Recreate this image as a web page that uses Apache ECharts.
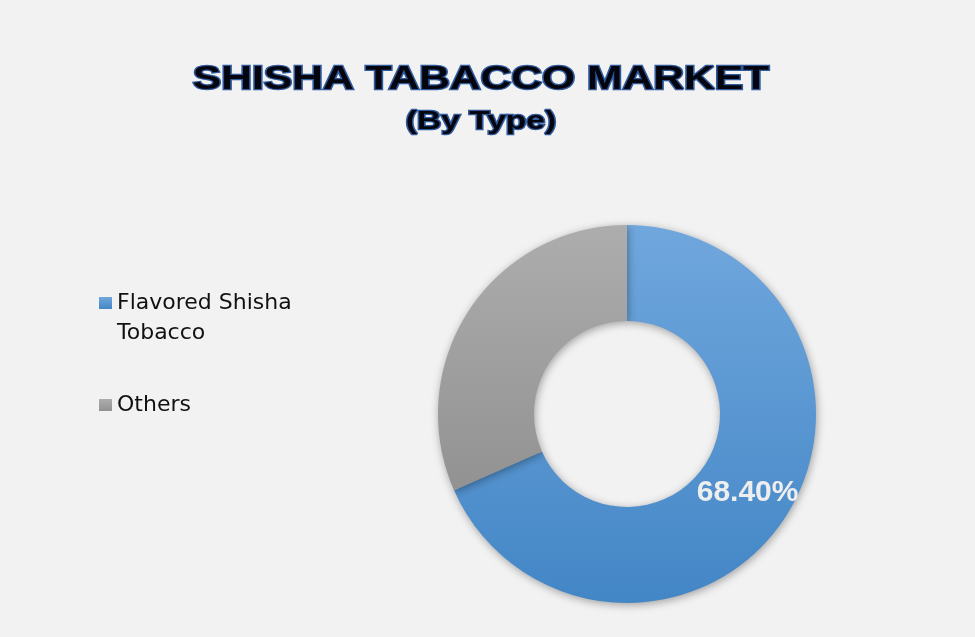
<!DOCTYPE html>
<html>
<head>
<meta charset="utf-8">
<script src="https://cdn.jsdelivr.net/npm/echarts@6/dist/echarts.min.js"></script>
<style>
  html, body { margin: 0; padding: 0; background: #f2f2f2; }
  #main { width: 975px; height: 637px; }
</style>
</head>
<body>
<div id="main"></div>
<script>
// Market share by type (%)
const categories = ['Flavored Shisha Tobacco', 'Others'];
const shares = [68.4, 31.6];
const showLabel = [true, false];

const titleText = 'SHISHA TABACCO MARKET';
const subtitleText = '(By Type)';

// Slice fills, light at the top to darker at the bottom
const sliceColors = [
  ['#70a7dd', '#4386c6'],
  ['#adadad', '#929292']
];

const gradient = (pair) => ({
  type: 'linear',
  x: 0, y: 0, x2: 0, y2: 1,
  colorStops: [
    { offset: 0, color: pair[0] },
    { offset: 1, color: pair[1] }
  ]
});

const seriesData = categories.map((name, i) => ({
  name: name,
  value: shares[i],
  itemStyle: { color: gradient(sliceColors[i]) },
  label: { show: showLabel[i] }
}));

// The heading in the original is stretched sideways, so it is drawn
// as graphic text with a horizontal scale
const heading = (text, size, y) => ({
  type: 'text',
  x: 481,
  y: y,
  scaleX: 1.29,
  style: {
    text: text,
    font: 'bold ' + size + 'px "Liberation Sans", Arial, sans-serif',
    fill: '#050510',
    stroke: '#2f5a9c',
    lineWidth: 2.5,
    align: 'center',
    verticalAlign: 'middle',
    shadowColor: 'rgba(0,0,0,0.35)',
    shadowBlur: 4,
    shadowOffsetX: 1,
    shadowOffsetY: 2
  }
});

const option = {
  backgroundColor: '#f2f2f2',
  animation: false,
  graphic: [
    heading(titleText, 33, 80),
    heading(subtitleText, 26, 122)
  ],
  legend: {
    orient: 'vertical',
    left: 99,
    top: 258,
    padding: 0,
    itemWidth: 13,
    itemHeight: 12,
    itemGap: 42,
    itemStyle: { borderWidth: 0 },
    icon: 'rect',
    textStyle: {
      fontFamily: 'DejaVu Sans, sans-serif',
      fontSize: 22,
      color: '#111111',
      lineHeight: 30
    },
    // leading blank line keeps the marker level with the first line of text
    formatter: (name) => name === 'Flavored Shisha Tobacco'
      ? '\nFlavored Shisha\nTobacco'
      : name
  },
  series: [
    {
      type: 'pie',
      center: [627, 414],
      radius: [93, 189],
      startAngle: 90,
      clockwise: true,
      avoidLabelOverlap: false,
      itemStyle: {
        borderWidth: 0,
        shadowColor: 'rgba(0,0,0,0.35)',
        shadowBlur: 8,
        shadowOffsetX: 1,
        shadowOffsetY: 2
      },
      label: {
        position: 'inside',
        formatter: (p) => p.value.toFixed(2) + '%',
        fontFamily: 'Liberation Sans, Arial, sans-serif',
        fontWeight: 'bold',
        fontSize: 30,
        color: '#eeeeee',
        textBorderWidth: 0
      },
      labelLine: { show: false },
      emphasis: { disabled: true },
      data: seriesData
    }
  ]
};

const chart = echarts.init(document.getElementById('main'));
chart.setOption(option);
</script>
</body>
</html>
